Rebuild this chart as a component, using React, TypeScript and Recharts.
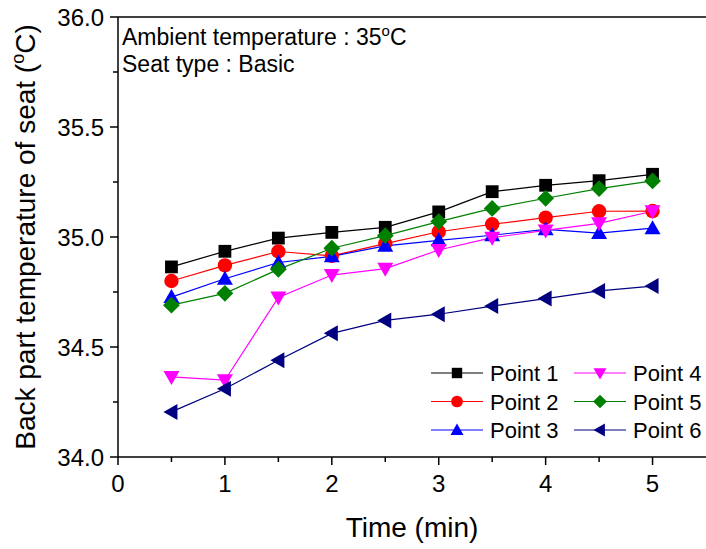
import React from 'react';
import { LineChart, Line, XAxis, YAxis, ReferenceLine, Legend, Customized } from 'recharts';

const times = [0.5, 1, 1.5, 2, 2.5, 3, 3.5, 4, 4.5, 5];
const point1 = [34.864, 34.935, 34.995, 35.021, 35.044, 35.114, 35.206, 35.235, 35.256, 35.285];
const point2 = [34.8, 34.871, 34.934, 34.914, 34.97, 35.024, 35.058, 35.088, 35.117, 35.118];
const point3 = [34.727, 34.81, 34.884, 34.912, 34.96, 34.985, 35.008, 35.035, 35.018, 35.04];
const point4 = [34.364, 34.349, 34.725, 34.827, 34.856, 34.941, 34.997, 35.03, 35.062, 35.117];
const point5 = [34.69, 34.744, 34.853, 34.949, 35.006, 35.07, 35.13, 35.176, 35.22, 35.255];
const point6 = [34.205, 34.31, 34.44, 34.562, 34.621, 34.649, 34.686, 34.72, 34.755, 34.777];

const xTicks = [0, 0.5, 1, 1.5, 2, 2.5, 3, 3.5, 4, 4.5, 5];
const yTicks = [34, 34.25, 34.5, 34.75, 35, 35.25, 35.5, 35.75, 36];

const data = times.map((t, i) => ({
  t,
  p1: point1[i],
  p2: point2[i],
  p3: point3[i],
  p4: point4[i],
  p5: point5[i],
  p6: point6[i],
}));

const FONT = "Arial, 'Liberation Sans', sans-serif";

type Shape = 'square' | 'circle' | 'up' | 'down' | 'diamond' | 'left';

const series: { key: string; name: string; color: string; shape: Shape }[] = [
  { key: 'p1', name: 'Point 1', color: '#000000', shape: 'square' },
  { key: 'p2', name: 'Point 2', color: '#ff0000', shape: 'circle' },
  { key: 'p3', name: 'Point 3', color: '#0000ff', shape: 'up' },
  { key: 'p4', name: 'Point 4', color: '#ff00ff', shape: 'down' },
  { key: 'p5', name: 'Point 5', color: '#008000', shape: 'diamond' },
  { key: 'p6', name: 'Point 6', color: '#000080', shape: 'left' },
];

const drawMarker = (shape: Shape, cx: number, cy: number, color: string, s: number, key?: string) => {
  switch (shape) {
    case 'square':
      return <rect key={key} x={cx - s * 0.8} y={cy - s * 0.8} width={s * 1.6} height={s * 1.6} fill={color} />;
    case 'circle':
      return <circle key={key} cx={cx} cy={cy} r={s * 0.9} fill={color} />;
    case 'up':
      return <polygon key={key} points={`${cx},${cy - s} ${cx - s},${cy + s * 0.75} ${cx + s},${cy + s * 0.75}`} fill={color} />;
    case 'down':
      return <polygon key={key} points={`${cx - s},${cy - s * 0.75} ${cx + s},${cy - s * 0.75} ${cx},${cy + s}`} fill={color} />;
    case 'diamond':
      return <polygon key={key} points={`${cx},${cy - s * 1.05} ${cx + s * 1.05},${cy} ${cx},${cy + s * 1.05} ${cx - s * 1.05},${cy}`} fill={color} />;
    case 'left':
      return <polygon key={key} points={`${cx - s},${cy} ${cx + s * 0.75},${cy - s} ${cx + s * 0.75},${cy + s}`} fill={color} />;
  }
};

const XTick = (props: any) => {
  const { x, y, payload } = props;
  const major = Number.isInteger(payload.value);
  return (
    <g>
      <line x1={x} y1={y} x2={x} y2={y + (major ? 8 : 5)} stroke="#000" strokeWidth={1.5} />
      {major && (
        <text x={x} y={y + 35} textAnchor="middle" fontSize={24} fontFamily={FONT} fill="#000">
          {payload.value}
        </text>
      )}
    </g>
  );
};

const YTick = (props: any) => {
  const { x, y, payload } = props;
  const v = payload.value as number;
  const major = Math.abs(v * 2 - Math.round(v * 2)) < 1e-6;
  return (
    <g>
      <line x1={x - (major ? 8 : 5)} y1={y} x2={x} y2={y} stroke="#000" strokeWidth={1.5} />
      {major && (
        <text x={x - 14} y={y + 8.5} textAnchor="end" fontSize={24} fontFamily={FONT} fill="#000">
          {v.toFixed(1)}
        </text>
      )}
    </g>
  );
};

const LegendBox = () => (
  <svg width={285} height={95} style={{ display: 'block' }}>
    {series.map((s, i) => {
      const col = Math.floor(i / 3);
      const row = i % 3;
      const x0 = col === 0 ? 6 : 149;
      const cy = 18 + row * 28.5;
      return (
        <g key={s.key}>
          <line x1={x0} y1={cy} x2={x0 + 52} y2={cy} stroke={s.color} strokeWidth={1.2} />
          {drawMarker(s.shape, x0 + 26, cy, s.color, 6.5)}
          <text x={x0 + 59} y={cy + 8} fontSize={22} fontFamily={FONT} fill="#000">
            {s.name}
          </text>
        </g>
      );
    })}
  </svg>
);

const Annotations = () => (
  <g fontFamily={FONT} fill="#000">
    <text x={122} y={45} fontSize={23}>
      Ambient temperature : 35
      <tspan fontSize={15} dy={-9}>o</tspan>
      <tspan dy={9}>C</tspan>
    </text>
    <text x={122} y={72} fontSize={23}>
      Seat type : Basic
    </text>
    <text x={412} y={537} fontSize={28} textAnchor="middle">
      Time (min)
    </text>
    <text x={35} y={237} fontSize={28} textAnchor="middle" transform="rotate(-90 35 237)">
      Back part temperature of seat (
      <tspan fontSize={18} dy={-11}>o</tspan>
      <tspan dy={11}>C)</tspan>
    </text>
  </g>
);

export default function App() {
  return (
    <div style={{ position: 'absolute', left: 0, top: 0, background: '#fff' }}>
      <LineChart width={706} height={549} data={data} margin={{ top: 17, right: 0, left: 0, bottom: 0 }}>
        <XAxis
          type="number"
          dataKey="t"
          domain={[0, 5.5]}
          ticks={xTicks}
          interval={0}
          height={92}
          tickSize={0}
          tickMargin={0}
          tickLine={false}
          tick={<XTick />}
          axisLine={{ stroke: '#000', strokeWidth: 1.5 }}
          allowDataOverflow
        />
        <YAxis
          type="number"
          domain={[34, 36]}
          ticks={yTicks}
          interval={0}
          width={118}
          tickSize={0}
          tickMargin={0}
          tickLine={false}
          tick={<YTick />}
          axisLine={{ stroke: '#000', strokeWidth: 1.5 }}
          allowDataOverflow
        />
        <ReferenceLine y={36} stroke="#000" strokeWidth={1.5} />
        {series.map((s) => (
          <Line
            key={s.key}
            dataKey={s.key}
            name={s.name}
            stroke={s.color}
            strokeWidth={1.2}
            isAnimationActive={false}
            dot={(p: any) => drawMarker(s.shape, p.cx, p.cy, s.color, 8, `${s.key}-${p.index}`) as any}
            activeDot={false}
          />
        ))}
        <Legend
          layout="horizontal"
          verticalAlign="middle"
          align="center"
          content={<LegendBox />}
          wrapperStyle={{ position: 'absolute', left: 425, top: 355, width: 285, height: 95 }}
        />
        <Customized component={Annotations} />
      </LineChart>
    </div>
  );
}
